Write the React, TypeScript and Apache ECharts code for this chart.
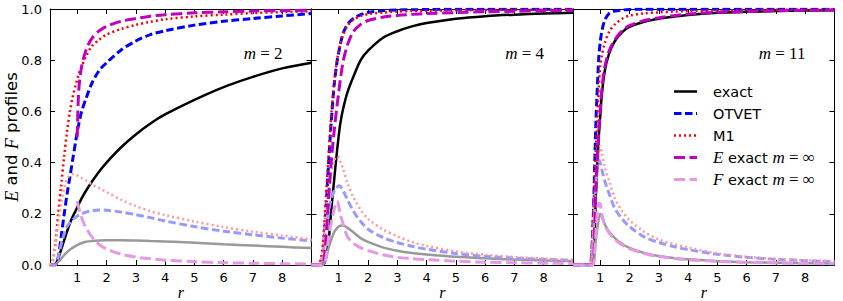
import React, { useEffect, useRef } from "react";
import * as echarts from "echarts";

// shared radius grid
const R = [0.07, 0.15, 0.25, 0.35, 0.45, 0.55, 0.65, 0.75, 0.85, 0.95, 1.0, 1.05, 1.15, 1.3, 1.5, 1.75, 2.0, 2.5, 3.0, 3.5, 4.0, 5.0, 6.0, 7.0, 8.0, 9.0];
const X_TICKS = [1, 2, 3, 4, 5, 6, 7, 8];
const PANEL_LABELS = ["2", "4", "11"];

// m = 2
const m2ExactE = [0, 0, 0.003, 0.025, 0.06, 0.095, 0.13, 0.163, 0.19, 0.213, 0.225, 0.237, 0.26, 0.29, 0.325, 0.365, 0.4, 0.46, 0.51, 0.553, 0.588, 0.645, 0.695, 0.735, 0.768, 0.79];
const m2ExactF = [0, 0, 0.001, 0.012, 0.025, 0.038, 0.05, 0.06, 0.068, 0.075, 0.078, 0.081, 0.086, 0.091, 0.094, 0.096, 0.097, 0.097, 0.096, 0.094, 0.092, 0.087, 0.081, 0.076, 0.071, 0.066];
const m2OtvetE = [0, 0, 0, 0.03, 0.11, 0.195, 0.275, 0.345, 0.415, 0.485, 0.52, 0.55, 0.6, 0.65, 0.71, 0.76, 0.79, 0.84, 0.875, 0.9, 0.915, 0.937, 0.952, 0.963, 0.973, 0.982];
const m2OtvetF = [0, 0, 0, 0.03, 0.08, 0.12, 0.15, 0.165, 0.177, 0.187, 0.19, 0.195, 0.2, 0.207, 0.212, 0.215, 0.214, 0.207, 0.197, 0.185, 0.172, 0.15, 0.132, 0.118, 0.105, 0.094];
const m2M1E = [0, 0.01, 0.08, 0.2, 0.31, 0.42, 0.52, 0.6, 0.66, 0.705, 0.725, 0.745, 0.775, 0.815, 0.855, 0.88, 0.9, 0.922, 0.938, 0.95, 0.96, 0.971, 0.978, 0.984, 0.988, 0.991];
const m2M1F = [0, 0.01, 0.07, 0.16, 0.24, 0.3, 0.335, 0.35, 0.355, 0.352, 0.35, 0.347, 0.34, 0.33, 0.315, 0.3, 0.285, 0.255, 0.23, 0.21, 0.195, 0.17, 0.148, 0.13, 0.115, 0.1];
const m2InfE = [null, null, null, null, null, null, null, null, null, null, 0.5, 0.68, 0.775, 0.84, 0.885, 0.915, 0.932, 0.952, 0.963, 0.972, 0.978, 0.985, 0.989, 0.992, 0.994, 0.995];
const m2InfF = [null, null, null, null, null, null, null, null, null, null, 0.25, 0.225, 0.185, 0.145, 0.11, 0.08, 0.063, 0.042, 0.031, 0.024, 0.019, 0.013, 0.009, 0.007, 0.005, 0.004];

// m = 4
const m4ExactE = [0, 0, 0, 0, 0, 0.02, 0.09, 0.22, 0.34, 0.455, 0.505, 0.55, 0.61, 0.675, 0.735, 0.8, 0.837, 0.887, 0.913, 0.932, 0.945, 0.962, 0.972, 0.978, 0.982, 0.985];
const m4ExactF = [0, 0, 0, 0, 0, 0.02, 0.065, 0.1, 0.13, 0.145, 0.15, 0.153, 0.154, 0.145, 0.128, 0.105, 0.09, 0.069, 0.056, 0.047, 0.041, 0.032, 0.026, 0.021, 0.018, 0.015];
const m4OtvetE = [0, 0, 0, 0, 0.03, 0.19, 0.39, 0.57, 0.71, 0.8, 0.83, 0.86, 0.905, 0.94, 0.963, 0.978, 0.987, 0.993, 0.996, 0.997, 0.998, 0.999, 0.999, 0.999, 0.999, 0.999];
const m4OtvetF = [0, 0, 0, 0, 0.04, 0.14, 0.21, 0.26, 0.29, 0.305, 0.31, 0.308, 0.29, 0.255, 0.21, 0.17, 0.14, 0.108, 0.088, 0.073, 0.062, 0.045, 0.034, 0.027, 0.022, 0.018];
const m4M1E = [0, 0, 0, 0.01, 0.07, 0.24, 0.42, 0.59, 0.72, 0.805, 0.835, 0.862, 0.9, 0.935, 0.958, 0.972, 0.98, 0.986, 0.99, 0.992, 0.993, 0.995, 0.996, 0.997, 0.997, 0.998];
const m4M1F = [0, 0, 0, 0, 0.06, 0.2, 0.3, 0.37, 0.41, 0.425, 0.42, 0.405, 0.375, 0.32, 0.265, 0.215, 0.18, 0.14, 0.112, 0.09, 0.075, 0.053, 0.04, 0.031, 0.025, 0.02];
const m4InfE = [0, 0, 0, 0, 0, 0.08, 0.25, 0.41, 0.53, 0.63, 0.675, 0.72, 0.795, 0.86, 0.912, 0.94, 0.955, 0.968, 0.975, 0.979, 0.982, 0.986, 0.989, 0.991, 0.993, 0.994];
const m4InfF = [0, 0, 0, 0, 0, 0.02, 0.1, 0.17, 0.22, 0.25, 0.23, 0.2, 0.16, 0.11, 0.085, 0.067, 0.056, 0.04, 0.03, 0.025, 0.021, 0.015, 0.011, 0.009, 0.007, 0.006];

// m = 11
const m11ExactE = [0, 0, 0, 0, 0, 0, 0, 0, 0.27, 0.5, 0.58, 0.66, 0.755, 0.825, 0.875, 0.91, 0.93, 0.95, 0.962, 0.97, 0.977, 0.985, 0.989, 0.992, 0.994, 0.995];
const m11ExactF = [0, 0, 0, 0, 0, 0, 0, 0, 0.1, 0.18, 0.2, 0.19, 0.16, 0.13, 0.105, 0.082, 0.067, 0.047, 0.035, 0.027, 0.022, 0.015, 0.011, 0.009, 0.007, 0.006];
const m11OtvetE = [0, 0, 0, 0, 0, 0, 0, 0.15, 0.55, 0.81, 0.87, 0.91, 0.955, 0.982, 0.992, 0.996, 0.998, 0.999, 0.999, 0.999, 0.999, 0.999, 0.999, 0.999, 0.999, 0.999];
const m11OtvetF = [0, 0, 0, 0, 0, 0, 0, 0.1, 0.32, 0.41, 0.4, 0.375, 0.33, 0.28, 0.22, 0.18, 0.15, 0.11, 0.088, 0.072, 0.06, 0.042, 0.03, 0.022, 0.017, 0.013];
const m11M1E = [0, 0, 0, 0, 0, 0, 0, 0.18, 0.45, 0.69, 0.78, 0.815, 0.865, 0.91, 0.94, 0.962, 0.974, 0.983, 0.987, 0.99, 0.992, 0.994, 0.996, 0.997, 0.997, 0.998];
const m11M1F = [0, 0, 0, 0, 0, 0, 0, 0.1, 0.3, 0.44, 0.465, 0.44, 0.385, 0.33, 0.26, 0.21, 0.175, 0.13, 0.1, 0.082, 0.068, 0.045, 0.032, 0.024, 0.019, 0.015];
const m11InfE = [0, 0, 0, 0, 0, 0, 0, 0, 0.3, 0.52, 0.6, 0.68, 0.77, 0.835, 0.88, 0.915, 0.935, 0.955, 0.966, 0.974, 0.98, 0.987, 0.99, 0.993, 0.995, 0.996];
const m11InfF = [0, 0, 0, 0, 0, 0, 0, 0, 0.12, 0.24, 0.24, 0.2, 0.16, 0.125, 0.1, 0.078, 0.063, 0.045, 0.033, 0.026, 0.02, 0.014, 0.01, 0.008, 0.006, 0.005];

const PANEL_DATA = [
  { exactE: m2ExactE, exactF: m2ExactF, otvetE: m2OtvetE, otvetF: m2OtvetF, m1E: m2M1E, m1F: m2M1F, infE: m2InfE, infF: m2InfF },
  { exactE: m4ExactE, exactF: m4ExactF, otvetE: m4OtvetE, otvetF: m4OtvetF, m1E: m4M1E, m1F: m4M1F, infE: m4InfE, infF: m4InfF },
  { exactE: m11ExactE, exactF: m11ExactF, otvetE: m11OtvetE, otvetF: m11OtvetF, m1E: m11M1E, m1F: m11M1F, infE: m11InfE, infF: m11InfF },
];

const STYLES: Record<string, any> = {
  exactE: { color: "#000000", width: 2.5, type: "solid" },
  exactF: { color: "#999999", width: 2.5, type: "solid" },
  otvetE: { color: "#0000ff", width: 3, type: [7.5, 3.5] },
  otvetF: { color: "#9999ff", width: 3, type: [7.5, 3.5] },
  m1E: { color: "#ff0000", width: 2.5, type: [2, 3] },
  m1F: { color: "#ff9999", width: 2.5, type: [2, 3] },
  infE: { color: "#bf00bf", width: 3, type: [11, 4.5] },
  infF: { color: "#e599e5", width: 3, type: [11, 4.5] },
};
const ORDER = ["exactE", "exactF", "otvetE", "otvetF", "m1E", "m1F", "infE", "infF"];

const LEGEND_ITEMS = [
  { key: "exactE", text: "exact" },
  { key: "otvetE", text: "OTVET" },
  { key: "m1E", text: "M1" },
  { key: "infE", text: "{it|E} exact {it|m}{mr| = ∞}" },
  { key: "infF", text: "{it|F} exact {it|m}{mr| = ∞}" },
];

const GRID_LEFT = [50, 311.5, 573];
const GRID_W = 261.5;
const GRID_TOP = 9;
const GRID_H = 256;

const SERIF = "'Liberation Serif', 'DejaVu Serif', serif";
const SANS = "'DejaVu Sans', sans-serif";

function buildOption() {
  const grid: any[] = [];
  const xAxis: any[] = [];
  const yAxis: any[] = [];
  const series: any[] = [];
  const graphic: any[] = [];

  const tick = { inside: true, length: 5, lineStyle: { color: "#000", width: 1 } };
  const axisLine = { show: true, onZero: false, lineStyle: { color: "#000", width: 1 } };

  for (let i = 0; i < 3; i++) {
    grid.push({
      left: GRID_LEFT[i], top: GRID_TOP, width: GRID_W, height: GRID_H,
      containLabel: false, outerBoundsMode: "none",
    });
    xAxis.push({
      type: "value", gridIndex: i, position: "bottom", min: 0.07, max: 9,
      axisLine, axisTick: { ...tick, customValues: X_TICKS },
      axisLabel: { customValues: X_TICKS, color: "#000", fontSize: 13, fontFamily: SANS, margin: 6 },
      splitLine: { show: false },
      name: "r", nameLocation: "middle", nameGap: 19, nameMoveOverlap: false,
      nameTextStyle: { fontFamily: SERIF, fontStyle: "italic", fontSize: 16, color: "#000", lineHeight: 16 },
    });
    xAxis.push({
      type: "value", gridIndex: i, position: "top", min: 0.07, max: 9,
      axisLine, axisTick: { ...tick, customValues: X_TICKS },
      axisLabel: { show: false }, splitLine: { show: false },
    });
    yAxis.push({
      type: "value", gridIndex: i, position: "left", min: 0, max: 1, interval: 0.2,
      axisLine, axisTick: tick,
      axisLabel: {
        show: i === 0, color: "#000", fontSize: 13, fontFamily: SANS, margin: 8,
        formatter: (v: number) => v.toFixed(1),
      },
      splitLine: { show: false },
      ...(i === 0
        ? {
            name: "{it|E} and {it|F} profiles",
            nameLocation: "middle", nameGap: 30, nameRotate: 90, nameMoveOverlap: false,
            nameTextStyle: {
              fontFamily: SANS, fontSize: 16.5, color: "#000", lineHeight: 17,
              rich: {
                it: { fontFamily: SERIF, fontStyle: "italic", fontSize: 18, color: "#000", lineHeight: 17 },
              },
            },
          }
        : {}),
    });
    yAxis.push({
      type: "value", gridIndex: i, position: "right", min: 0, max: 1, interval: 0.2,
      axisLine, axisTick: tick, axisLabel: { show: false }, splitLine: { show: false },
    });

    const pd: any = PANEL_DATA[i];
    ORDER.forEach((key, j) => {
      const vals: any[] = pd[key];
      const st = STYLES[key];
      series.push({
        type: "line",
        name: key + "_" + i,
        xAxisIndex: i * 2,
        yAxisIndex: i * 2,
        data: R.map((r, k) => [r, vals[k] == null ? "-" : vals[k]]),
        symbol: "none",
        showSymbol: false,
        smooth: 0.3,
        connectNulls: false,
        silent: true,
        z: 2 + j,
        lineStyle: { color: st.color, width: st.width, type: st.type, cap: "butt" },
      });
    });

    graphic.push({
      type: "text",
      x: GRID_LEFT[i] + GRID_W - 29,
      y: 53,
      style: {
        text: "{it|m}{mr| = " + PANEL_LABELS[i] + "}",
        align: "right",
        verticalAlign: "middle",
        rich: {
          it: { fontFamily: SERIF, fontStyle: "italic", fontSize: 17, fill: "#000" },
          mr: { fontFamily: SERIF, fontSize: 17, fill: "#000" },
        },
      },
      z: 100,
    });
  }

  LEGEND_ITEMS.forEach((item, i) => {
    const y = 91.5 + i * 22;
    const st = STYLES[item.key];
    graphic.push({
      type: "line",
      shape: { x1: 674, y1: y, x2: 697, y2: y },
      style: {
        stroke: st.color, lineWidth: st.width,
        lineDash: Array.isArray(st.type) ? st.type : null,
      },
      z: 100,
    });
    graphic.push({
      type: "text",
      x: 713, y,
      style: {
        text: item.text,
        fontFamily: SANS, fontSize: 14.5, fill: "#000",
        verticalAlign: "middle", align: "left",
        rich: {
          it: { fontFamily: SERIF, fontStyle: "italic", fontSize: 17, fill: "#000" },
          mr: { fontFamily: SERIF, fontSize: 17, fill: "#000" },
        },
      },
      z: 100,
    });
  });

  return {
    animation: false,
    backgroundColor: "#ffffff",
    grid, xAxis, yAxis, series, graphic,
  };
}

export default function App() {
  const ref = useRef<HTMLDivElement>(null);
  useEffect(() => {
    if (!ref.current) return;
    const chart = echarts.init(ref.current, null, { renderer: "svg" });
    chart.setOption(buildOption() as any);
    return () => chart.dispose();
  }, []);
  return (
    <div
      ref={ref}
      style={{ position: "absolute", left: 0, top: 0, width: 843, height: 301, background: "#fff" }}
    />
  );
}
